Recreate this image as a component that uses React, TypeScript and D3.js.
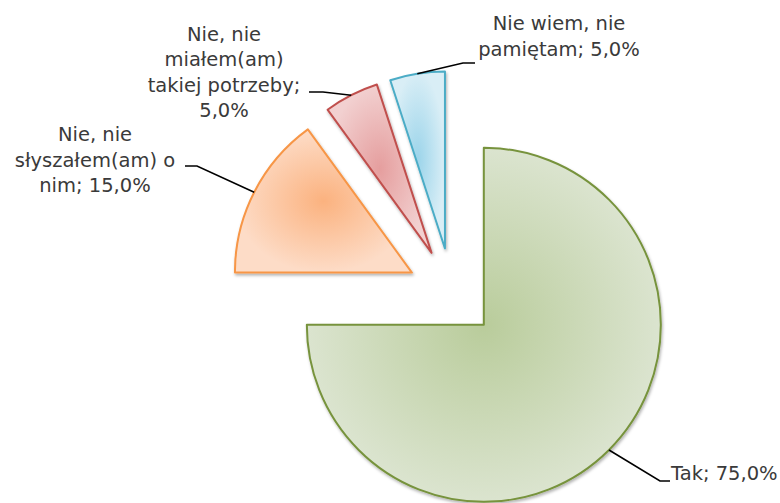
// Exploded pie: "Tak / Nie" survey answers
import React from 'react';
import * as d3 from 'd3';

// --- Data ---
const categories = ['Tak', 'Nie, nie słyszałem(am) o nim', 'Nie, nie miałem(am) takiej potrzeby', 'Nie wiem, nie pamiętam'];
const values = [75, 15, 5, 5];
const valueLabels = ['75,0%', '15,0%', '5,0%', '5,0%'];

// label text as it wraps in the picture
const labelLines = [
  ['Tak; 75,0%'],
  ['Nie, nie', 'słyszałem(am) o', 'nim; 15,0%'],
  ['Nie, nie', 'miałem(am)', 'takiej potrzeby;', '5,0%'],
  ['Nie wiem, nie', 'pamiętam; 5,0%'],
];

// --- Styles ---
const strokes = ['#77933c', '#f79646', '#c0504d', '#4bacc6'];
const fillInner = ['#b9cc9b', '#fbb27f', '#e59e9e', '#9bd4ea'];
const fillOuter = ['#dbe4cf', '#fddcc7', '#f2d0d0', '#d9eef6'];

// label layout: x, first baseline, anchor, leader elbow + end
const labelLayout = [
  { x: 671, y: 480, anchor: 'start', elbow: [660, 481], end: [670, 481] },
  { x: 95, y: 141, anchor: 'middle', elbow: [197, 166], end: [185, 166] },
  { x: 224, y: 40.5, anchor: 'middle', elbow: [323, 92], end: [309, 92] },
  { x: 559, y: 30, anchor: 'middle', elbow: [463, 63], end: [475, 63] },
];

const W = 780, H = 503;
const center = [452, 293];
const radius = 177;
const explode = 45;
const lineH = 25.5;

export default function App() {
  const pie = d3.pie<number>().sort(null).value(d => d).startAngle(0).endAngle(2 * Math.PI);
  const arcs = pie(values);
  const arc = d3.arc<d3.PieArcDatum<number>>().innerRadius(0).outerRadius(radius);

  return (
    <svg width={W} height={H} style={{ position: 'absolute', left: 0, top: 0, background: '#fff' }}
      fontFamily="'DejaVu Sans', sans-serif">
      <defs>
        {values.map((_, i) => (
          <radialGradient key={i} id={`g${i}`} cx="50%" cy="50%" r="50%">
            <stop offset="0%" stopColor={fillInner[i]} />
            <stop offset="100%" stopColor={fillOuter[i]} />
          </radialGradient>
        ))}
        <filter id="shadow" x="-10%" y="-10%" width="130%" height="130%">
          <feDropShadow dx="1" dy="2" stdDeviation="1.8" floodColor="#000" floodOpacity="0.3" />
        </filter>
      </defs>
      <rect width={W} height={H} fill="#fff" />
      {arcs.map((a, i) => {
        const mid = (a.startAngle + a.endAngle) / 2;
        const dx = Math.sin(mid) * explode;
        const dy = -Math.cos(mid) * explode;
        const cx = center[0] + dx, cy = center[1] + dy;
        const ox = cx + Math.sin(mid) * radius;
        const oy = cy - Math.cos(mid) * radius;
        const lay = labelLayout[i];
        return (
          <g key={categories[i]}>
            <path d={arc(a) || ''} transform={`translate(${cx},${cy})`}
              fill={`url(#g${i})`} stroke={strokes[i]} strokeWidth={2} strokeLinejoin="round"
              filter="url(#shadow)" />
            <polyline points={`${ox},${oy} ${lay.elbow[0]},${lay.elbow[1]} ${lay.end[0]},${lay.end[1]}`}
              fill="none" stroke="#000" strokeWidth={1.6} />
          </g>
        );
      })}
      {labelLines.map((lines, i) => {
        const lay = labelLayout[i];
        return (
          <text key={i} x={lay.x} y={lay.y} textAnchor={lay.anchor} fontSize={19.5} fill="#3a3a3a"
            aria-label={`${categories[i]}; ${valueLabels[i]}`}>
            {lines.map((l, j) => (
              <tspan key={j} x={lay.x} y={lay.y + j * lineH}>{l}</tspan>
            ))}
          </text>
        );
      })}
    </svg>
  );
}
